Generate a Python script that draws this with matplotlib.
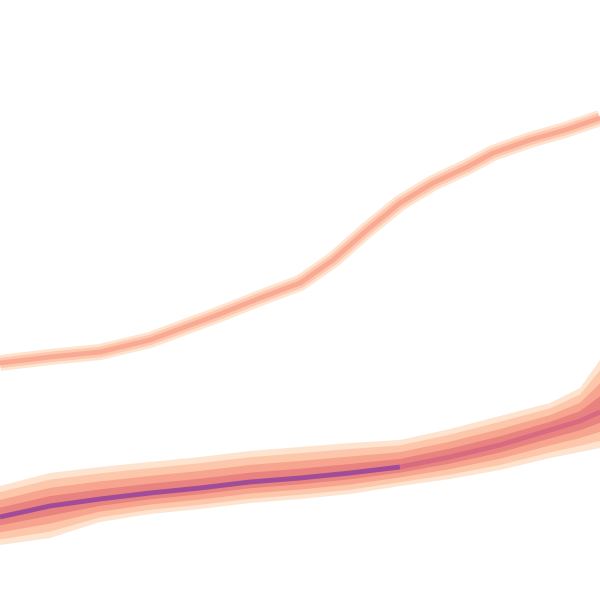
import matplotlib
matplotlib.use("Agg")
import matplotlib.pyplot as plt
import numpy as np

# upper single trace (pixel-like units, y grows downward)
upper_x = [0, 50, 100, 150, 185, 220, 260, 300, 333, 367, 400, 433, 467, 493, 530, 565, 600]
upper_y = [363, 357, 352, 340, 327, 314, 298, 283, 260, 230, 203, 183, 167, 153, 140, 130, 118]

# lower dense band: core line and outer envelope
band_x = [0, 50, 100, 150, 200, 250, 300, 350, 400, 450, 500, 550, 580, 600]
band_core = [517, 506, 499, 493, 488, 482, 478, 473, 467, 457, 445, 430, 421, 412]
band_top = [486, 473, 467, 462, 457, 451, 447, 443, 440, 429, 416, 403, 388, 360]
band_bottom = [545, 538, 522, 514, 509, 503, 499, 494, 486, 479, 470, 458, 452, 448]

# density levels, outer (sparse) -> inner (dense)
level_frac = [1.0, 0.8, 0.55, 0.3]
level_colors = ["#fee3cf", "#fdc7ab", "#f7a58f", "#e8837f"]
core_color = "#a04c98"

fig = plt.figure(figsize=(6, 6), dpi=100)
ax = fig.add_axes([0, 0, 1, 1])

bx = np.array(band_x)
core = np.array(band_core)
top = np.array(band_top)
bot = np.array(band_bottom)
for f, c in zip(level_frac, level_colors):
    ax.fill_between(bx, core + f * (top - core), core + f * (bot - core), color=c, lw=0)

# darkest core, purple on the left, rose on the right
ax.plot(bx[:9], core[:9], color=core_color, lw=3.5, solid_capstyle="butt")
ax.plot(bx[8:], core[8:], color="#d86b82", lw=3.5, solid_capstyle="butt")

# upper trace
ax.plot(upper_x, upper_y, color="#fee3cf", lw=11.5, solid_capstyle="butt")
ax.plot(upper_x, upper_y, color="#fdc8ae", lw=7.5, solid_capstyle="butt")
ax.plot(upper_x, upper_y, color="#f9aa94", lw=3.5, solid_capstyle="butt")

ax.set_xlim(0, 600)
ax.set_ylim(600, 0)
ax.axis("off")

plt.savefig("out.png", dpi=100)
